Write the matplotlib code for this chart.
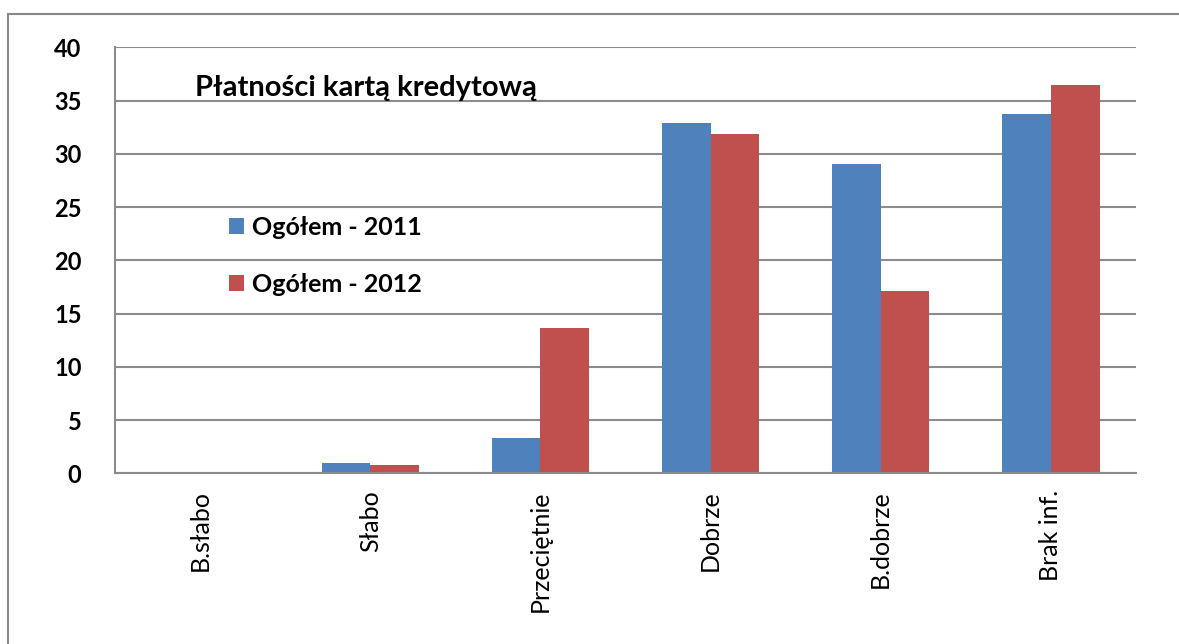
import matplotlib.pyplot as plt
import numpy as np
from matplotlib.patches import Rectangle

categories = ["B.słabo", "Słabo", "Przeciętnie", "Dobrze", "B.dobrze", "Brak inf."]
ogolem_2011 = [0, 0.94, 3.3, 32.9, 29.05, 33.75]
ogolem_2012 = [0, 0.8, 13.6, 31.9, 17.1, 36.5]
y_ticks = [0, 5, 10, 15, 20, 25, 30, 35, 40]

plt.rcParams['font.family'] = ['Lato', 'DejaVu Sans']

fig = plt.figure(figsize=(11.79, 6.44), dpi=100)
ax = fig.add_axes([0.0975, 0.265, 0.866, 0.6615])

# outer chart frame
fig.patches.append(Rectangle((0.0068, -0.05), 1.1, 1.028, transform=fig.transFigure,
                             fill=False, edgecolor="#888888", linewidth=1.5))

x = np.arange(len(categories))
w = 1 / 3.5
ax.bar(x - w / 2, ogolem_2011, w, color="#4F81BD", label="Ogółem - 2011")
ax.bar(x + w / 2, ogolem_2012, w, color="#C0504D", label="Ogółem - 2012")

ax.set_xlim(-0.5, len(categories) - 0.5)
ax.set_ylim(0, 40)
ax.set_yticks(y_ticks)
ax.set_yticklabels([str(v) for v in y_ticks], fontsize=17, fontweight="bold")
ax.set_xticks(x)
ax.set_xticklabels(categories, rotation=90, fontsize=18)
ax.tick_params(length=0, pad=12)
ax.tick_params(axis="y", pad=24)

ax.grid(axis="y", color="#8c8c8c", linewidth=1.5)
ax.set_axisbelow(True)
for s in ["top", "right"]:
    ax.spines[s].set_visible(False)
for s in ["left", "bottom"]:
    ax.spines[s].set_color("#8c8c8c")
    ax.spines[s].set_linewidth(1.5)

ax.text(0.078, 0.904, "Płatności kartą kredytową", transform=ax.transAxes,
        fontsize=21, fontweight="bold", va="center", ha="left")

ax.legend(loc="center left", bbox_to_anchor=(0.09, 0.51), frameon=False,
          prop={"size": 18, "weight": "bold"}, handlelength=0.6, handleheight=0.6,
          handletextpad=0.3, labelspacing=1.35)

fig.savefig("out.png", dpi=100)
